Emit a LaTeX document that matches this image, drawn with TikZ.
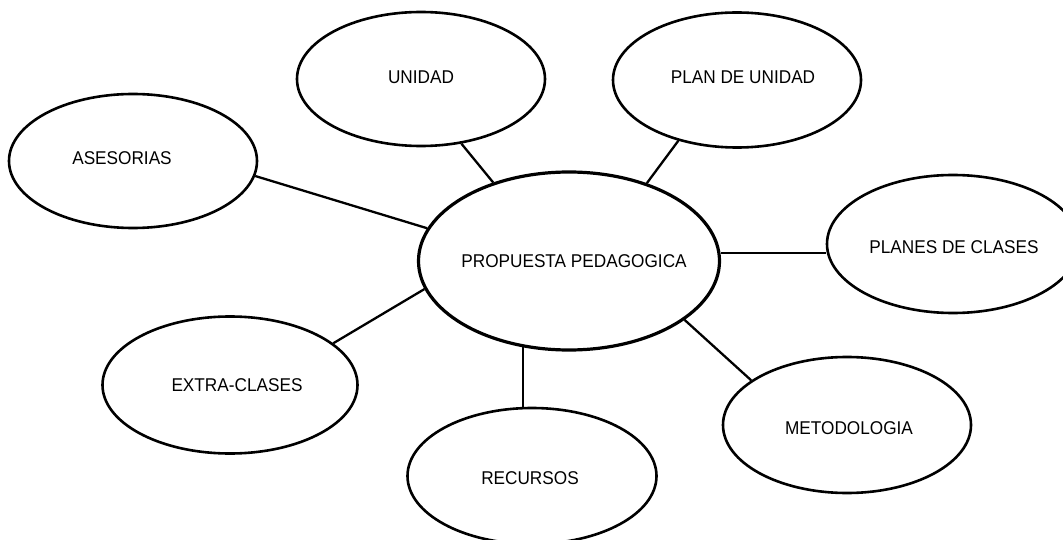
\documentclass[tikz,border=0pt]{standalone}
\usepackage{fontspec}
\setmainfont[FakeStretch=0.93]{Liberation Sans}
\usetikzlibrary{shapes.geometric}
\tikzset{
  bubble/.style={ellipse, draw=black, line width=2.6pt, fill=white, inner sep=0pt},
  hub/.style={bubble, line width=3.2pt},
  lbl/.style={inner sep=0pt, font=\fontsize{18.5}{20}\selectfont, text=black},
  link/.style={draw=black, line width=2.3pt}
}
\begin{document}
\begin{tikzpicture}[x=1pt,y=-1pt]
\useasboundingbox[fill=white] (0,0) rectangle (1063,540);
% ellipses
\node[hub, minimum width=301pt, minimum height=178pt] (P) at (569,261) {};
\node[bubble, minimum width=248pt, minimum height=134pt] (U) at (421,79) {};
\node[bubble, minimum width=248pt, minimum height=135pt] (PU) at (737,80) {};
\node[bubble, minimum width=248pt, minimum height=134pt] (A) at (133,161) {};
\node[bubble, minimum width=252pt, minimum height=138pt] (PC) at (953,244) {};
\node[bubble, minimum width=255pt, minimum height=137pt] (E) at (230,385) {};
\node[bubble, minimum width=249pt, minimum height=136pt] (R) at (532,476) {};
\node[bubble, minimum width=248pt, minimum height=136pt] (M) at (847,425) {};
% labels
\node[lbl] (tP) at (574,261) {PROPUESTA PEDAGOGICA};
\node[lbl] (tU) at (421,77) {UNIDAD};
\node[lbl] (tPU) at (743,77) {PLAN DE UNIDAD};
\node[lbl] (tA) at (122,158) {ASESORIAS};
\node[lbl] (tPC) at (954,247) {PLANES DE CLASES};
\node[lbl] (tE) at (237,385) {EXTRA-CLASES};
\node[lbl] (tR) at (530,478) {RECURSOS};
\node[lbl] (tM) at (849,428) {METODOLOGIA};
% connectors
\draw[link] (U.-58.6) -- (P.134.6);
\draw[link] (PU.226.4) -- (P.45.4);
\draw[link] (A.-7.9) -- (P.167.6);
\draw[link] (P.3) -- (P.3 -| PC.west);
\draw[link] (E.22.4) -- (P.191.4);
\draw[link] (P.-118) -- (P.-118 |- R.north);
\draw[link] (P.-27.4) -- (M.155.4);
\end{tikzpicture}
\end{document}
